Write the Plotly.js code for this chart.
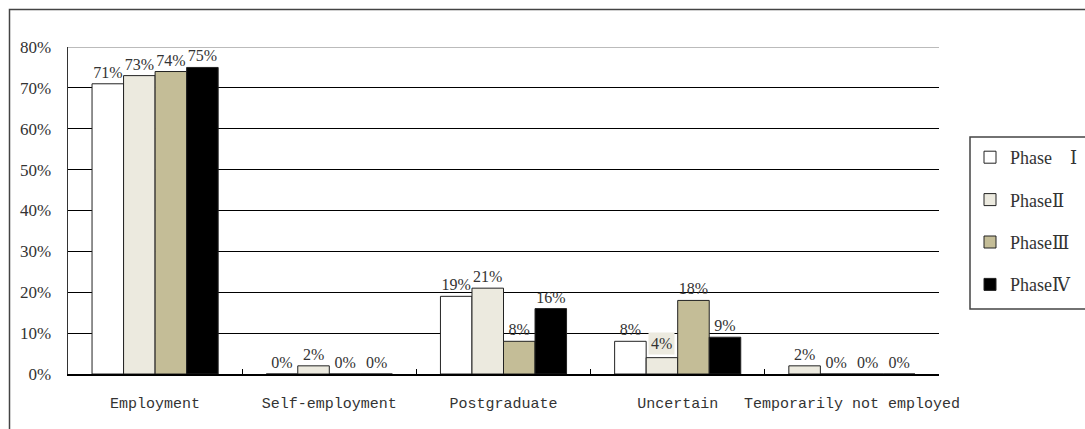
<!DOCTYPE html>
<html>
<head>
<meta charset="utf-8">
<script src="https://cdn.plot.ly/plotly-3.0.1.min.js"></script>
<style>
html,body{margin:0;padding:0;background:#fff;}
#chart{width:1085px;height:429px;}
</style>
</head>
<body>
<div id="chart"></div>
<script>
// ---- data ----
const categories = ["Employment", "Self-employment", "Postgraduate", "Uncertain", "Temporarily not employed"];
const seriesNames = ["Phase\u3000\u2160", "Phase\u2161", "Phase\u2162", "Phase\u2163"];
const phase1 = [71, 0, 19, 8, 2];
const phase2 = [73, 2, 21, 4, 0];
const phase3 = [74, 0, 8, 18, 0];
const phase4 = [75, 0, 16, 9, 0];
const yTickVals = [0, 10, 20, 30, 40, 50, 60, 70, 80];

// ---- styles ----
const W = 1085, H = 429;
const M = {l: 68, r: 146, t: 47, b: 55, autoexpand: false};
const bargap = 0.276;
const colors = ["#FFFFFF", "#ECEADF", "#C4BD97", "#000000"];
const serif = "'Liberation Serif', 'DejaVu Serif', serif";
const mono = "'Liberation Mono', 'DejaVu Sans Mono', monospace";
const allSeries = [phase1, phase2, phase3, phase4];

const traces = allSeries.map((vals, i) => {
  const fill = (i === 0) ? vals.map((v, j) => j === 4 ? colors[1] : colors[0]) : colors[i];
  const texts = vals.map((v, j) => (i === 1 && j === 3) ? "" : v + "%");
  return {
    type: "bar",
    name: seriesNames[i],
    x: categories,
    y: vals,
    text: texts,
    textposition: "outside",
    cliponaxis: false,
    constraintext: "none",
    textfont: {family: serif, size: 16, color: "#333"},
    marker: {color: fill, line: {color: "#222", width: 1}},
    legendgroup: "g" + i,
    hoverinfo: "none"
  };
});

const plotW = W - M.l - M.r, plotH = H - M.t - M.b;
const px2x = p => (p - M.l) / plotW;
const px2y = p => (H - M.b - p) / plotH;

// offset of Phase II bar centre within the category
const catW = plotW / categories.length;
const barW = catW * (1 - bargap) / 4;
const shiftII = -0.5 * barW;

const layout = {
  width: W, height: H,
  margin: M,
  paper_bgcolor: "#fff",
  plot_bgcolor: "#fff",
  barmode: "group",
  bargap: bargap,
  bargroupgap: 0,
  showlegend: true,
  legend: {
    x: px2x(970), xanchor: "left",
    y: px2y(139), yanchor: "top",
    bgcolor: "rgba(0,0,0,0)",
    borderwidth: 0,
    font: {family: serif, size: 18, color: "#333"},
    tracegroupgap: 16,
    traceorder: "grouped",
    itemclick: false
  },
  xaxis: {
    type: "category",
    showline: true, linecolor: "#000", linewidth: 1.5,
    ticks: "inside", tickson: "boundaries", ticklen: 5, tickcolor: "#000", tickwidth: 1,
    showgrid: false,
    tickangle: 0,
    automargin: false,
    ticklabelstandoff: 14,
    tickfont: {family: mono, size: 15, color: "#333"},
    fixedrange: true
  },
  yaxis: {
    range: [0, 80],
    tickvals: yTickVals,
    ticktext: yTickVals.map(v => v + "%"),
    showline: true, linecolor: "#333", linewidth: 1.5,
    showgrid: true, gridcolor: "#000", gridwidth: 1,
    zeroline: false,
    ticks: "",
    ticklabelstandoff: 12,
    tickfont: {family: serif, size: 17, color: "#333"},
    fixedrange: true
  },
  shapes: [
    // top gridline in grey
    {type: "line", xref: "paper", yref: "y", x0: 0, x1: 1, y0: 80, y1: 80,
     line: {color: "#BBBBBB", width: 2}, layer: "above"},
    // outer chart border
    {type: "rect", xref: "paper", yref: "paper",
     x0: px2x(9.5), x1: px2x(W + 20), y0: px2y(H + 20), y1: px2y(9.5),
     line: {color: "#444", width: 1.5}, layer: "below"},
    // legend box
    {type: "rect", xref: "paper", yref: "paper",
     x0: px2x(970), x1: px2x(W + 20), y0: px2y(309), y1: px2y(137),
     line: {color: "#444", width: 1.5}, layer: "below"}
  ],
  annotations: [
    {xref: "x", yref: "y", x: categories[3], y: phase2[3], xshift: shiftII, yshift: 3,
     yanchor: "bottom", showarrow: false, text: phase2[3] + "%",
     font: {family: serif, size: 16, color: "#333"}, bgcolor: colors[1], borderpad: 2}
  ]
};

Plotly.newPlot("chart", traces, layout, {displayModeBar: false, staticPlot: true});
</script>
</body>
</html>
